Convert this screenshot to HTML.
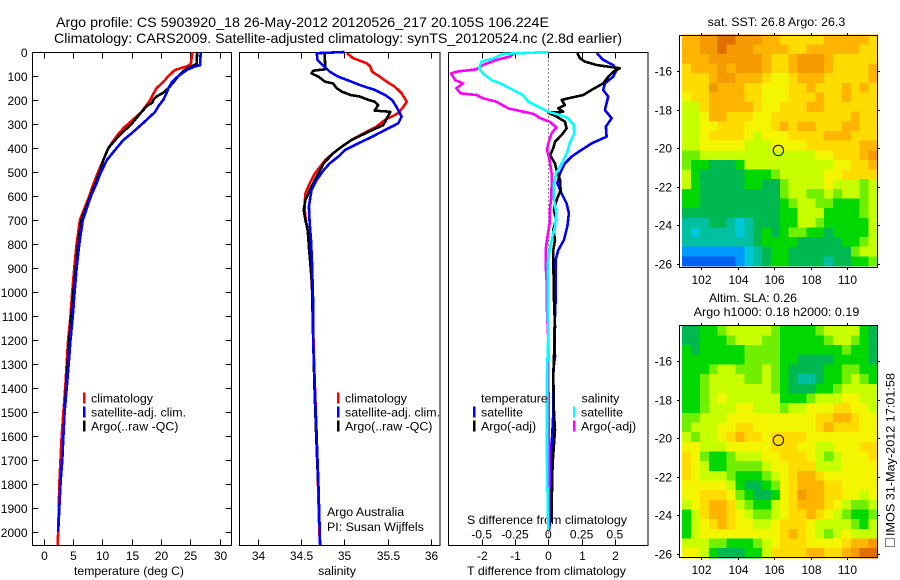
<!DOCTYPE html>
<html>
<head>
<meta charset="utf-8">
<title>Argo profile</title>
<style>
html,body{margin:0;padding:0;background:#fff;}
svg{display:block;}
text{font-family:"Liberation Sans",sans-serif;font-size:12px;fill:#000;}
</style>
</head>
<body>
<svg id="chart" width="900" height="580" viewBox="0 0 900 580" xmlns="http://www.w3.org/2000/svg">
<text x="56" y="27" style="font-size:14px" textLength="493" lengthAdjust="spacingAndGlyphs">Argo profile: CS 5903920_18 26-May-2012 20120526_217 20.105S 106.224E</text>
<text x="54" y="43" style="font-size:14px" textLength="568" lengthAdjust="spacingAndGlyphs">Climatology: CARS2009. Satellite-adjusted climatology: synTS_20120524.nc (2.8d earlier)</text>
<text x="74" y="575" textLength="110" lengthAdjust="spacingAndGlyphs">temperature (deg C)</text>
<text x="337" y="575" text-anchor="middle" style="font-size:12.4px">salinity</text>
<text x="467" y="575" textLength="159" lengthAdjust="spacingAndGlyphs">T difference from climatology</text>
<text x="467" y="524" textLength="160" lengthAdjust="spacingAndGlyphs">S difference from climatology</text>
<text x="327" y="516" style="font-size:12.4px">Argo Australia</text>
<text x="327" y="531" style="font-size:12.4px">PI: Susan Wijffels</text>
<text x="707.7" y="26" textLength="137.6" lengthAdjust="spacingAndGlyphs">sat. SST: 26.8  Argo: 26.3</text>
<text x="709" y="302" textLength="88" lengthAdjust="spacingAndGlyphs">Altim. SLA: 0.26</text>
<text x="693.7" y="316" textLength="165.6" lengthAdjust="spacingAndGlyphs">Argo h1000: 0.18 h2000: 0.19</text>
<text transform="translate(894.5,536) rotate(-90)" textLength="163" lengthAdjust="spacingAndGlyphs">IMOS 31-May-2012 17:01:58</text>
<rect x="885.5" y="538.5" width="9" height="8" fill="none" stroke="#000" stroke-width="1" stroke-dasharray="1 1"/>
</svg>
<script>
// ---------- tick data ----------
var depthTicks = [0,100,200,300,400,500,600,700,800,900,1000,1100,1200,1300,1400,1500,1600,1700,1800,1900,2000];
var tempTicks = [0,5,10,15,20,25,30];
var salTicks = [34,34.5,35,35.5,36];
var salTickLabels = ['34','34.5','35','35.5','36'];
var dTempTicks = [-2,-1,0,1,2];
var dSalTicks = [-0.5,-0.25,0,0.25,0.5];
var dSalTickLabels = ['-0.5','-0.25','0','0.25','0.5'];
var lonTicks = [102,104,106,108,110];
var latTicks = [-16,-18,-20,-22,-24,-26];

// ---------- temperature profiles ----------
var climTempDepth = [0,50,60,75,100,125,150,175,200,250,311,339,367,401,450,500,550,600,700,800,900,1000,1100,1200,1300,1400,1500,1600,1700,1800,1900,2000,2055];
var climTemp = [25.4,25.1,24.4,22.4,21.3,20.4,19.3,18.7,18.2,16.7,13.9,12.8,12,11.05,10.2,9.3,8.5,7.8,6.2,5.65,5.25,4.9,4.6,4.2,3.95,3.7,3.4,3.1,2.9,2.7,2.6,2.5,2.4];
var satTempDepth = [0,55,60,75,100,125,150,175,200,225,250,300,339,367,408,450,500,550,600,700,800,900,1000,1100,1200,1300,1400,1500,1600,1700,1800,1900,2000];
var satTemp = [26.8,26.7,25.8,24.4,23,21.9,21.3,20.9,20.4,19.6,19,16.8,15,13.6,12.2,10.8,9.8,9,8.1,6.7,6.1,5.65,5.3,5,4.6,4.3,3.95,3.6,3.4,3.15,2.9,2.7,2.5];
var argoTempDepth = [0,50,60,75,100,125,150,170,185,200,210,225,250,300,339,367,401,450,500,550,600,700,800,1000,1200,1400,1500,1600,1700,1825];
var argoTemp = [26.2,26.1,25.2,24.1,23,22.2,21.3,20.4,19.3,18.7,18.6,17.6,16.7,15,13.3,12.2,11.05,10.2,9.6,8.8,8,6.45,5.9,5.1,4.4,3.85,3.6,3.4,3.2,2.8];

// ---------- salinity profiles ----------
var climSalDepth = [5,26,47,61,82,103,124,144,172,207,228,255,283,311,339,367,394,422,450,478,506,547,589,644,686,728,783,1000,1300,1600,2000,2055];
var climSal = [35.03,35.1,35.26,35.3,35.32,35.41,35.49,35.58,35.66,35.72,35.68,35.62,35.47,35.37,35.22,35.08,34.97,34.87,34.78,34.72,34.66,34.6,34.55,34.54,34.55,34.57,34.59,34.63,34.65,34.68,34.71,34.72];
var satSalDepth = [0,5,33,44,61,82,103,119,138,158,179,200,228,269,297,325,353,381,408,436,464,492,533,575,644,714,783,880,1054,1200,1408,1800,2055];
var satSal = [35,34.68,34.69,34.72,34.77,34.83,34.93,35.05,35.18,35.35,35.47,35.55,35.6,35.66,35.62,35.47,35.32,35.16,35.01,34.93,34.83,34.76,34.68,34.62,34.59,34.6,34.615,34.626,34.64,34.64,34.66,34.7,34.72];
var argoSalDepth = [5,61,72,78,89,103,124,131,151,165,179,186,200,207,221,244,249,283,304,332,367,394,422,464,506,561,617,658,700,742,812,960,1200,1400,1600,1825];
var argoSal = [34.77,34.78,34.78,34.64,34.62,34.7,34.78,34.87,34.91,34.97,35.07,35.18,35.28,35.35,35.39,35.35,35.53,35.48,35.45,35.28,35.08,34.97,34.87,34.76,34.7,34.62,34.55,34.53,34.55,34.577,34.59,34.625,34.64,34.655,34.675,34.7];

// ---------- difference profiles ----------
var satDTempDepth = [5,33,54,75,103,131,158,186,242,276,311,353,381,408,436,464,506,547,589,631,672,728,783,825,867,895,1034,1173,1270,1325,1436,1506,1645,1784,1923,1992];
var satDTemp = [1.45,1.65,1.95,2.05,1.95,1.7,1.65,1.8,1.7,1.9,1.73,1.75,1.3,1,0.7,0.5,0.35,0.27,0.4,0.55,0.62,0.57,0.47,0.3,0.22,0.22,0.22,0.18,0.2,0.15,0.15,0.15,0.1,0.07,0.05,0.03];
var argoDTempDepth = [5,26,40,54,68,82,103,131,158,179,193,200,221,235,249,253,269,290,318,346,374,401,429,464,492,533,575,617,658,700,741,783,825,867,1034,1145,1353,1506,1575,1714,1895,1960];
var argoDTemp = [0.87,0.95,1.1,1.45,2.15,1.95,1.8,1.65,1.3,1.05,0.6,0.4,0.5,0.3,0.45,0,0.25,0.5,0.55,0.4,0.2,0.15,0.05,0.2,0.25,0.35,0.37,0.25,0.17,0.23,0.15,0.2,0.15,0.15,0.17,0.2,0.15,0.17,0.2,0.13,0.1,0.1];
var satDSalDepth = [0,8,26,40,68,89,117,131,151,179,207,228,249,263,276,304,339,381,422,464,506,547,603,672,728,783,825,881,1034,1173,1353,1714,1992];
var satDSal = [0,-0.34,-0.41,-0.5,-0.52,-0.49,-0.425,-0.36,-0.29,-0.19,-0.15,-0.075,0,0.09,0.15,0.19,0.195,0.16,0.14,0.1,0.06,0.04,0.04,0.06,0.05,0.025,0.01,-0.005,-0.005,0,-0.01,-0.01,0];
var argoDSalDepth = [5,19,33,54,72,82,89,117,131,151,172,179,193,207,235,246,258,276,290,314,339,381,408,450,506,561,617,665,714,783,825,881,978,1075,1200,1353,1645,1923];
var argoDSal = [-0.25,-0.29,-0.39,-0.49,-0.54,-0.69,-0.73,-0.7,-0.64,-0.69,-0.66,-0.54,-0.49,-0.39,-0.3,-0.21,-0.11,-0.06,0.01,0.06,0.025,0,-0.01,0.01,0.025,0.025,0.02,0.01,0.01,-0.01,-0.02,-0.02,-0.01,-0.01,0,0,0.005,0.005];

// ---------- map grids (colour-scale level per cell, north to south) ----------
var sstGrid = [
[10,10,11,11,12,12,11,11,11,10,10,9,9,9,9,9,10,10,10,10,10,9],
[10,10,11,11,12,11,11,11,10,10,10,10,9,9,10,10,10,10,10,10,9,9],
[10,10,10,11,11,11,11,11,11,10,9,9,10,11,11,11,10,9,9,9,9,9],
[9,10,10,10,11,10,11,11,11,10,9,9,10,11,11,11,10,9,9,9,9,10],
[9,9,9,10,11,11,10,10,10,9,8,8,9,10,10,10,9,9,9,9,9,10],
[9,9,9,11,10,10,10,9,9,8,8,8,9,9,10,9,9,9,10,9,10,9],
[8,9,9,10,10,10,10,9,9,8,8,8,9,9,9,10,9,9,10,9,9,9],
[7,7,9,10,10,10,10,10,9,8,8,9,9,9,10,10,9,9,9,9,9,9],
[7,7,8,10,10,9,9,9,8,8,9,9,9,9,9,9,9,9,9,10,9,9],
[7,7,8,8,9,9,9,8,8,8,9,10,9,10,10,9,9,9,10,10,9,9],
[7,7,8,9,9,9,9,8,7,8,8,8,9,9,9,9,10,10,10,9,9,9],
[7,7,8,8,8,8,8,7,7,7,8,8,8,8,9,9,9,9,9,9,10,10],
[6,6,7,7,7,7,7,7,7,7,7,7,7,7,7,8,8,9,9,9,10,11],
[6,5,5,4,4,4,5,7,7,7,7,7,7,7,7,7,7,8,8,9,9,10],
[7,5,4,4,4,4,4,5,5,5,6,7,7,7,7,7,8,8,9,9,9,9],
[7,5,4,4,4,4,4,5,5,4,4,6,7,7,7,7,8,7,7,7,6,7],
[5,5,4,4,4,4,4,4,4,4,4,6,7,7,6,6,7,6,7,7,6,7],
[5,5,4,4,4,4,4,4,4,4,4,5,6,7,7,6,6,5,5,5,6,7],
[4,4,4,4,4,4,4,4,4,4,4,5,5,7,7,7,5,5,5,5,6,7],
[3,3,3,4,4,3,2,3,4,4,4,5,5,7,7,6,5,5,5,5,5,7],
[3,2,3,3,3,3,2,3,4,5,4,5,6,6,5,5,4,5,5,5,5,7],
[3,3,3,3,3,3,3,3,4,5,5,5,5,4,4,4,4,4,5,5,6,7],
[1,1,1,1,1,1,1,2,3,4,5,5,4,4,4,4,4,4,4,6,7,7],
[0,0,0,0,0,0,1,2,3,4,5,5,4,4,4,4,3,4,4,5,5,6]
];
var slaGrid = [
[4,4,5,5,6,7,7,7,7,7,6,5,5,5,5,6,7,7,7,7,5,4],
[4,4,5,5,5,6,7,7,7,6,6,5,5,5,5,5,6,7,7,6,5,4],
[5,4,5,5,5,5,5,6,6,6,6,5,5,5,5,5,5,5,6,5,5,4],
[5,5,5,5,5,5,5,6,6,6,6,5,5,4,4,4,4,5,5,5,5,4],
[5,5,5,6,7,7,6,6,6,7,6,5,4,4,4,4,5,5,6,6,5,5],
[5,5,6,7,7,7,7,6,6,7,6,5,4,3,3,4,5,5,6,7,6,5],
[5,5,6,7,7,7,7,7,7,7,6,5,4,4,4,5,5,6,7,7,7,7],
[5,5,6,7,8,7,7,7,7,7,7,5,5,5,6,7,7,7,8,8,7,7],
[5,5,6,7,7,7,8,8,7,7,7,6,7,7,8,8,8,9,9,8,8,7],
[6,6,7,7,7,8,8,8,8,8,8,8,8,8,8,9,9,10,10,9,8,8],
[6,7,7,7,8,8,9,9,8,8,8,8,8,8,8,9,10,9,9,9,8,8],
[7,6,7,7,8,9,10,9,9,8,9,9,9,9,8,8,8,8,8,8,8,8],
[8,8,7,7,7,8,8,8,8,8,9,9,9,8,8,7,7,8,8,8,9,9],
[9,8,6,5,5,6,7,7,7,8,8,9,9,9,8,7,6,7,8,8,8,9],
[9,8,7,5,5,6,6,6,6,7,8,8,9,9,9,7,7,7,8,8,8,8],
[9,8,7,7,7,6,5,5,5,6,7,8,9,10,10,9,8,8,8,8,8,8],
[8,8,8,8,8,7,5,4,4,5,6,8,9,10,10,10,9,9,8,8,8,8],
[8,8,9,9,9,8,6,5,4,4,5,8,9,11,10,10,9,9,8,8,7,8],
[7,8,9,10,10,9,7,6,5,5,7,8,9,10,10,10,9,8,7,6,6,7],
[5,7,9,10,10,9,8,7,6,6,7,8,9,9,10,9,8,7,6,5,5,6],
[5,7,8,9,10,9,8,8,7,7,8,9,9,9,8,7,7,7,7,6,5,7],
[5,7,8,8,8,8,8,8,8,8,8,9,10,9,8,7,6,7,8,7,7,7],
[7,7,7,6,6,5,5,5,6,7,8,9,9,9,8,8,8,8,9,10,10,11],
[8,8,7,5,4,4,4,5,5,7,9,9,9,9,10,10,9,9,10,11,12,12]
];
var levelColors = ['#0060f0','#0098ff','#00c8d8','#00c0a0','#00b850','#00d800','#70f000','#c8ff00','#f4f600','#ffdc00','#ffb400','#f59a00','#e06e00'];
var floatLon = [106.224];
var floatLat = [-20.105];

// ---------- axis functions ----------
function yDepth(d){return 52+d*0.24;}
function xTemp(v){return 43.5+v*5.867;}
function xSal(v){return 257.7+(v-34)*86.7;}
function xDTemp(v){return 548.3+v*33.3;}
function xDSal(v){return 548.3+v*133.2;}
function xLon(v){return 701.3+(v-102)*18.25;}
function ySstLat(v){return 71.3+(-16-v)*19.27;}
function ySlaLat(v){return 361.3+(-16-v)*19.23;}

var svg = document.getElementById('chart');
var NS = 'http://www.w3.org/2000/svg';
function mk(tag,attrs){
  var el=document.createElementNS(NS,tag);
  for(var k in attrs){el.setAttribute(k,attrs[k]);}
  svg.appendChild(el);
  return el;
}
function line(x1,y1,x2,y2){
  var el=mk('line',{x1:x1,y1:y1,x2:x2,y2:y2,stroke:'#000','stroke-width':1,'shape-rendering':'crispEdges'});
  
  
  return el;
}
function label(x,y,str,anchor){
  var el=mk('text',{x:x,y:y,'text-anchor':anchor||'middle'});
  el.textContent=str;
  
  
  return el;
}
function frame(x,y,w,h,name){
  var el=mk('rect',{x:x,y:y,width:w,height:h,fill:'none',stroke:'#000','stroke-width':1,'shape-rendering':'crispEdges'});
  
  
  return el;
}
function profile(depths,values,xf,color,name,width){
  var pts=[];
  for(var i=0;i<depths.length;i++){pts.push(xf(values[i]).toFixed(1)+','+yDepth(depths[i]).toFixed(1));}
  var el=mk('polyline',{points:pts.join(' '),fill:'none',stroke:color,'stroke-width':width||2.6,'stroke-linejoin':'round','shape-rendering':'crispEdges'});
  
  
  return el;
}
function legendEntry(x,y,color,str){
  var b=mk('rect',{x:x-1,y:y-5.5,width:2.5,height:11,fill:color,'shape-rendering':'crispEdges'});
  
  
  var t=mk('text',{x:x+7,y:y+4.5,style:'font-size:12.4px'});
  t.textContent=str;
  
  
}

// ---------- maps ----------
function drawMap(grid,yf,latTop,latStep,name){
  var lonLeft=100.95, lonStep=(111.65-100.95)/22;
  for(var r=0;r<grid.length;r++){
    for(var c=0;c<grid[r].length;c++){
      var x0=xLon(lonLeft+c*lonStep), x1=xLon(lonLeft+(c+1)*lonStep);
      var y0=yf(latTop-r*latStep), y1=yf(latTop-(r+1)*latStep);
      var cell=mk('rect',{x:x0,y:y0,width:x1-x0+0.5,height:y1-y0+0.5,fill:levelColors[grid[r][c]],'shape-rendering':'crispEdges'});
      
      
    }
  }
}
function drawMapAxes(yf,top,bottom,labelY,name){
  var left=679.5,right=877.5;
  frame(left,top,right-left,bottom-top,name+'-frame');
  lonTicks.forEach(function(v){
    var x=Math.round(xLon(v))+0.5;
    line(x,top-2.5,x,top);
    line(x,bottom,x,bottom+2.5);
    label(x,labelY,String(v));
  });
  latTicks.forEach(function(v){
    var y=Math.round(yf(v))+0.5;
    line(left-2.5,y,left,y);
    line(right,y,right+2.5,y);
    label(672,y+4,String(v),'end');
  });
}
function drawFloat(yf,name){
  var m=mk('circle',{cx:xLon(floatLon[0]),cy:yf(floatLat[0]),r:5.2,fill:'none',stroke:'#000','stroke-width':1});
  
  
}
drawMap(sstGrid,ySstLat,-14.1,0.5,'sst');
drawMapAxes(ySstLat,35.5,267.5,284,'sst-map');
drawFloat(ySstLat,'sst-float-marker');
drawMap(slaGrid,ySlaLat,-14.15,0.503,'sla');
drawMapAxes(ySlaLat,325.5,557.5,574,'sla-map');
drawFloat(ySlaLat,'sla-float-marker');

// ---------- panel 1: temperature ----------
frame(32.5,52.5,199,493,'temperature-panel-frame');
depthTicks.forEach(function(d){
  var y=Math.round(yDepth(d))+0.5;
  line(32.5,y,38.5,y);
  line(225.5,y,231.5,y);
  label(27.5,y+4.5,String(d),'end');
});
tempTicks.forEach(function(v){
  var x=Math.round(xTemp(v))+0.5;
  line(x,52.5,x,58.5);
  line(x,539.5,x,545.5);
  label(x,560,String(v));
});
profile(climTempDepth,climTemp,xTemp,'#ff0000','temperature-climatology-line');
profile(argoTempDepth,argoTemp,xTemp,'#000000','temperature-argo-line');
profile(satTempDepth,satTemp,xTemp,'#0000ff','temperature-satellite-line');
legendEntry(84,398,'#ff0000','climatology');
legendEntry(84,412,'#0000ff','satellite-adj. clim.');
legendEntry(84,426,'#000000','Argo(..raw -QC)');

// ---------- panel 2: salinity ----------
frame(239.5,52.5,200.5,493,'salinity-panel-frame');
salTicks.forEach(function(v,i){
  var x=Math.round(xSal(v))+0.5;
  line(x,52.5,x,58.5);
  line(x,539.5,x,545.5);
  label(x,560,salTickLabels[i]);
});
profile(climSalDepth,climSal,xSal,'#ff0000','salinity-climatology-line');
profile(argoSalDepth,argoSal,xSal,'#000000','salinity-argo-line');
profile(satSalDepth,satSal,xSal,'#0000ff','salinity-satellite-line');
legendEntry(338,398,'#ff0000','climatology');
legendEntry(338,412,'#0000ff','satellite-adj. clim.');
legendEntry(338,426,'#000000','Argo(..raw -QC)');

// ---------- panel 3: differences ----------
frame(448.5,52.5,199.5,493,'difference-panel-frame');
var zero=mk('line',{x1:xDTemp(0),y1:52.5,x2:xDTemp(0),y2:545,stroke:'#000','stroke-width':1,'stroke-dasharray':'1 3','shape-rendering':'crispEdges'});


dTempTicks.forEach(function(v){
  var x=Math.round(xDTemp(v))+0.5;
  line(x,52.5,x,58.5);
  line(x,539.5,x,545.5);
  label(x,560,String(v));
});
dSalTicks.forEach(function(v,i){
  label(xDSal(v),538.5,dSalTickLabels[i]);
});
profile(satDTempDepth,satDTemp,xDTemp,'#0000ff','t-difference-satellite-line');
profile(argoDTempDepth,argoDTemp,xDTemp,'#000000','t-difference-argo-line');
profile(argoDSalDepth,argoDSal,xDSal,'#ff00ff','s-difference-argo-line');
profile(satDSalDepth,satDSal,xDSal,'#00ffff','s-difference-satellite-line');
var h1=mk('text',{x:481,y:402.5,style:'font-size:12.4px'});
h1.textContent='temperature';


var h2=mk('text',{x:581.5,y:402.5,style:'font-size:12.4px'});
h2.textContent='salinity';


legendEntry(474,412,'#0000ff','satellite');
legendEntry(474,426,'#000000','Argo(-adj)');
legendEntry(574,412,'#00ffff','satellite');
legendEntry(574,426,'#ff00ff','Argo(-adj)');
</script>
</body>
</html>
